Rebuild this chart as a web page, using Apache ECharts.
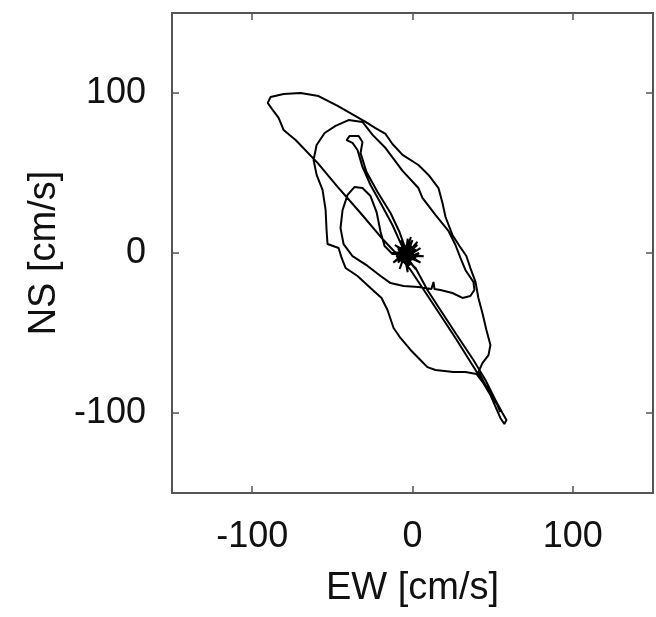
<!DOCTYPE html>
<html>
<head>
<meta charset="utf-8">
<title>Particle motion hodograph</title>
<script src="https://cdn.jsdelivr.net/npm/echarts@6/dist/echarts.min.js"></script>
<style>
  html, body { margin: 0; padding: 0; background: #fff; }
  #chart { width: 656px; height: 617px; }
</style>
</head>
<body>
<div id="chart"></div>
<script>
// Horizontal ground velocity: east-west (x) versus north-south (y), in cm/s.
const axisRange = [-150, 150];
const tickValues = [-100, 0, 100];

// Quiet start: small jittery motion around the origin.
const quietStart = [
  [-4, -1], [-3, 9], [-4, 1], [0, 8], [-3, 0], [3, 7], [-2, -1], [5, 3],
  [-3, -2], [7, -2], [-3, -1], [5, -6], [-4, -2], [2, -10], [-4, -3],
  [-3, -12], [-5, -2], [-8, -10], [-5, -1], [-12, -6], [-5, 0], [-13, 0],
  [-4, 1], [-11, 5], [-4, 0], [-7, 8], [-3, 1], [-6, -4], [0, 3], [-8, 2],
  [-1, -4], [-5, 5], [-2, -7], [-7, -1], [1, 1], [-4, -5], [-6, 3],
  [-2, -3], [-7, 2], [0, -1], [-5, -5], [-3, 4], [-8, -2], [1, -3],
  [-6, 5], [-1, 2], [-7, -4], [-2, 5], [-4, -6], [2, 2], [-8, 0]
];

// First pulse to the south-east.
const pulseSE = [
  [1.9, -9.4], [9.3, -23.1], [17.4, -35.6], [26.8, -50], [38, -66.9],
  [45.5, -79.4], [51.7, -91.9], [56.1, -100], [58.6, -104.4],
  [57.3, -106.9], [54.8, -103.1]
];

// Swing back through the origin to the north-west, across the top.
const swingNW = [
  [48.6, -88.8], [39.3, -73.1], [26.8, -53.1], [11.2, -29.4], [-1.2, -10.6],
  [-7.5, -3.1], [-18.1, 8.1], [-32.4, 25], [-46.7, 41.3], [-59.2, 56.3],
  [-72.9, 70.6], [-80.4, 76.9], [-83.5, 84.4], [-87.2, 89.4], [-90.3, 93.8],
  [-88.5, 97.5], [-80.4, 99.4], [-69.8, 100], [-58.6, 98.1], [-46.7, 91.9],
  [-35.5, 85.6], [-29.3, 81.9]
];

// Outer right-hand edge down to the south-east end.
const outerEdge = [
  [-23.1, 78.1], [-16.8, 74.4], [-12.5, 68.1], [-6.2, 61.3], [3.7, 55],
  [10, 48.8], [16.2, 40.6], [18.7, 31.3], [20.6, 22.5], [24.9, 11.3],
  [29.3, 4.4], [33.6, -1.9], [36.1, -9.4], [39.3, -18.1], [41.1, -28.1],
  [43.6, -37.5], [46.1, -48.1], [48.6, -57.5], [47.4, -63.8], [43.6, -68.8],
  [41.1, -74.4], [45.5, -82.5], [52.3, -93.1], [54.8, -99.4], [53, -95],
  [47.4, -85.6], [39.9, -75.6]
];

// Lower-left edge back up to the north.
const lowerEdge = [
  [33, -74.4], [25.5, -74.4], [14.3, -73.1], [9.3, -71.3], [3.7, -65.6],
  [-1.2, -60.6], [-7.5, -53.1], [-11.8, -46.9], [-15.6, -35.6], [-19.3, -28.1],
  [-26.2, -21.9], [-34.3, -14.4], [-41.7, -9.4], [-44.2, -3.1], [-46.1, 3.1],
  [-53, 5.6], [-53.6, 14.4], [-54.2, 26.9], [-56.1, 39.4], [-59.8, 48.8],
  [-61.7, 58.1], [-59.8, 67.5], [-54.8, 75], [-48, 79.4], [-39.9, 83.1],
  [-31.2, 81.9]
];

// Inner loop: diagonal down the right side, back across and into the origin.
const innerLoop = [
  [-24.9, 73.8], [-16.8, 65.6], [-6.2, 51.3], [3.7, 40.6], [6.2, 34.4],
  [14.3, 23.8], [22.4, 13.8], [26.8, 5], [29.9, -3.1], [33, -10.6],
  [38, -18.1], [38.6, -23.1], [36.1, -26.9], [31.2, -28.1], [24.9, -25],
  [17.4, -23.1], [13.7, -22.5], [13.1, -18.1], [11.8, -22.5], [3.7, -21.3],
  [-5.6, -20.6], [-13.7, -18.8], [-19.9, -14.4], [-28, -8.1], [-37.4, -1.9],
  [-43, 5.6], [-44.9, 15.6], [-43.6, 26.9], [-40.5, 36.3], [-36.1, 41.3],
  [-31.2, 40.6], [-26.2, 35.6], [-22.4, 25.6], [-19.9, 13.1], [-17.4, 4.4],
  [-12.5, -0.6], [-4, -1]
];

// Last excursion to the north-west and back.
const lastExcursion = [
  [-7.5, 6.3], [-12.5, 17.5], [-19.9, 31.3], [-26.2, 42.5], [-31.2, 53.8],
  [-34.3, 64.4], [-37.4, 68.8], [-41.1, 70.6], [-39.3, 73.1], [-33.6, 73.1],
  [-31.2, 69.4], [-32.4, 62.5], [-28.7, 50.6], [-21.8, 38.1], [-13.7, 25],
  [-8.1, 13.1], [-5, 4.4]
];

// Coda: jitter around the origin.
const quietEnd = [
  [-4, 1], [-1, 10], [-4, 2], [1, 4], [-6, -3], [-9, 3], [-2, -5], [4, 0],
  [-7, -5], [-1, -7], [-6, 4], [2, -3], [-5, -6], [-10, -2], [-2, 3],
  [-4, -1], [-2, -8], [-6, 1], [3, 5], [-5, -2], [-9, -6], [-3, 4],
  [0, -2], [-6, -1], [-2, 1], [-4, -3], [-7, 4], [-1, -5], [-5, 2],
  [-3, -4], [-8, -3], [0, 4], [-4, 0]
];

const trace = [].concat(quietStart, pulseSE, swingNW, outerEdge,
  lowerEdge, innerLoop, lastExcursion, quietEnd);

const fontFamily = '"Liberation Sans", Arial, Helvetica, sans-serif';
const textColor = '#111';
const frameColor = '#555';

function valueAxis(extra) {
  return Object.assign({
    type: 'value',
    min: axisRange[0],
    max: axisRange[1],
    splitLine: { show: false },
    axisLine: { show: false, onZero: false },
    axisTick: {
      show: true, inside: true, length: 7,
      customValues: tickValues,
      lineStyle: { color: frameColor, width: 1.5 }
    },
    axisLabel: {
      show: true, customValues: tickValues, margin: 26,
      color: textColor, fontSize: 36, fontFamily: fontFamily
    },
    nameLocation: 'middle',
    nameTextStyle: { color: textColor, fontSize: 38, fontFamily: fontFamily }
  }, extra);
}

const chart = echarts.init(document.getElementById('chart'), null, { renderer: 'canvas' });
chart.setOption({
  animation: false,
  backgroundColor: '#fff',
  grid: {
    left: 172, right: 3, top: 13, bottom: 124,
    show: true, borderColor: frameColor, borderWidth: 2,
    backgroundColor: 'transparent'
  },
  xAxis: [
    valueAxis({ position: 'bottom', name: 'EW [cm/s]', nameGap: 77 }),
    valueAxis({ position: 'top', axisLabel: { show: false } })
  ],
  yAxis: [
    valueAxis({ position: 'left', name: 'NS [cm/s]', nameGap: 106 }),
    valueAxis({ position: 'right', axisLabel: { show: false } })
  ],
  series: [{
    type: 'line',
    xAxisIndex: 0,
    yAxisIndex: 0,
    data: trace,
    showSymbol: false,
    symbol: 'none',
    smooth: false,
    lineStyle: { color: '#000', width: 2 }
  }]
});
</script>
</body>
</html>
